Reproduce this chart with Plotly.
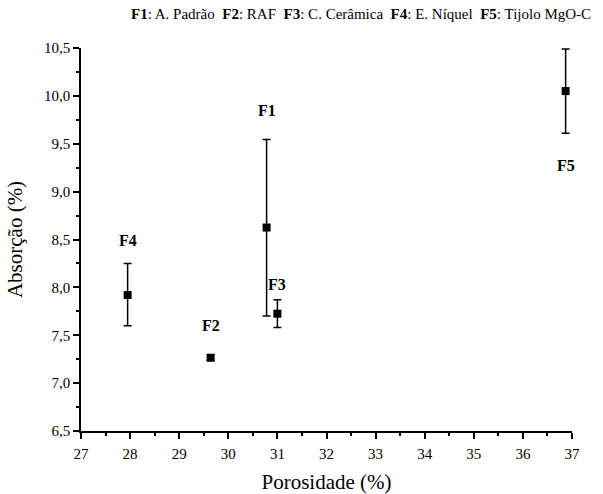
import plotly.graph_objects as go

names = ["F1", "F2", "F3", "F4", "F5"]
porosidade = [30.78, 29.64, 31.00, 27.95, 36.87]
absorcao = [8.625, 7.265, 7.725, 7.92, 10.05]
err_plus = [0.92, 0.03, 0.145, 0.33, 0.44]
err_minus = [0.925, 0.03, 0.145, 0.32, 0.44]
label_y = [9.85, 7.60, 8.03, 8.49, 9.27]
legend_text = ("<b>F1</b>: A. Padrão  <b>F2</b>: RAF  <b>F3</b>: C. Cerâmica  "
               "<b>F4</b>: E. Níquel  <b>F5</b>: Tijolo MgO-C")

font = "Liberation Serif"

fig = go.Figure()
fig.add_trace(go.Scatter(
    x=porosidade, y=absorcao, mode="markers",
    marker=dict(symbol="square", size=8, color="black"),
    error_y=dict(type="data", symmetric=False, array=err_plus, arrayminus=err_minus,
                 color="black", thickness=1.5, width=4),
    showlegend=False,
))

for n, x, ly in zip(names, porosidade, label_y):
    fig.add_annotation(x=x, y=ly, text="<b>%s</b>" % n, showarrow=False,
                       font=dict(family=font, size=16, color="black"))

fig.add_annotation(x=0.57, y=1.0, xref="paper", yref="paper", yshift=34, yanchor="middle",
                   text=legend_text, showarrow=False,
                   font=dict(family=font, size=15, color="black"))

axis_common = dict(
    showgrid=False, zeroline=False, showline=True, linecolor="black", linewidth=1.5,
    ticks="outside", ticklen=6, tickwidth=1.5, tickcolor="black",
    tickfont=dict(family=font, size=15, color="black"),
    mirror=False, automargin=False,
)

fig.update_xaxes(range=[27, 37], dtick=1, tick0=27, ticklabelstandoff=2,
                 minor=dict(ticks="outside", ticklen=3, tickwidth=1.5, tickcolor="black", dtick=0.5),
                 title=dict(text="Porosidade (%)", font=dict(family=font, size=21, color="black"), standoff=19),
                 **axis_common)
fig.update_yaxes(range=[6.5, 10.5], dtick=0.5, tick0=6.5, tickformat=".1f",
                 minor=dict(ticks="outside", ticklen=3, tickwidth=1.5, tickcolor="black", dtick=0.25),
                 title=dict(text="Absorção (%)", font=dict(family=font, size=21, color="black"), standoff=16),
                 **axis_common)

fig.update_layout(
    width=603, height=494,
    margin=dict(l=81, r=31, t=48, b=63),
    plot_bgcolor="white", paper_bgcolor="white",
    separators=",.",
    font=dict(family=font, color="black"),
)

fig.write_html("out.html")
